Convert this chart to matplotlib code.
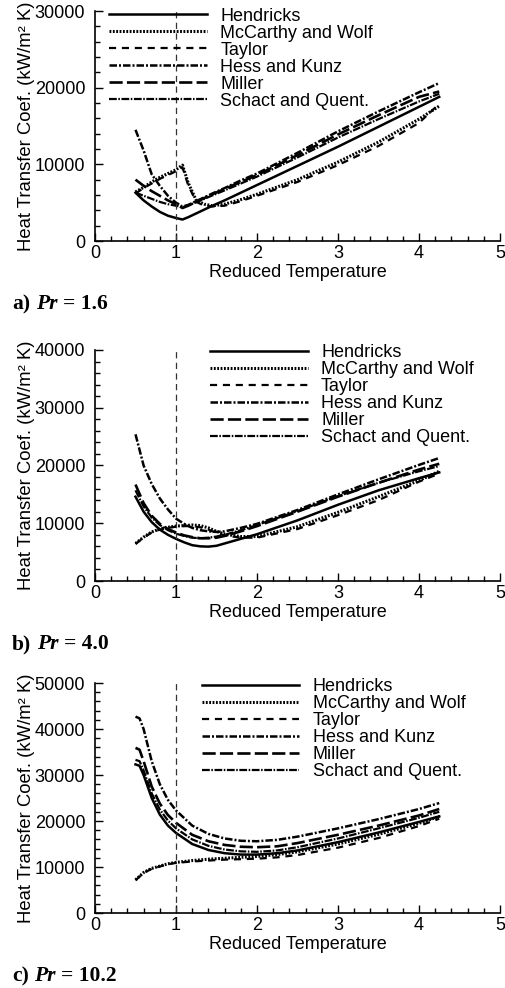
"""
Heat transfer coefficient vs reduced temperature for six correlations,
three Prandtl numbers stacked vertically.
"""
import matplotlib

matplotlib.use("Agg")
import matplotlib.pyplot as plt
from matplotlib.ticker import MultipleLocator

plt.rcParams["font.family"] = ["Liberation Sans", "DejaVu Sans"]

CORRELATIONS = [
    "Hendricks",
    "McCarthy and Wolf",
    "Taylor",
    "Hess and Kunz",
    "Miller",
    "Schact and Quent.",
]

# a) Pr = 1.6
x_a = [0.5, 0.6, 0.7, 0.8, 0.9, 1.0, 1.08, 1.15, 1.25, 1.35, 1.45, 1.6,
       1.8, 2.0, 2.5, 3.0, 3.5, 4.0, 4.25]
hendricks_a = [6300, 5300, 4500, 3800, 3300, 3000, 2800, 3100, 3600, 4100,
               4600, 5300, 6300, 7300, 9800, 12300, 14900, 17500, 18800]
mccarthy_a = [6400, 7000, 7700, 8300, 8800, 9300, 9900, 7600, 5300, 4800,
              4600, 4800, 5400, 6100, 8000, 10300, 12900, 15900, 17600]
taylor_a = [6200, 6900, 7500, 8100, 8600, 9100, 9600, 7300, 5100, 4600,
            4500, 4600, 5200, 5900, 7700, 9900, 12400, 15400, 17900]
hess_a = [14500, 11800, 8700, 7200, 5900, 5000, 4500, 4700, 5200, 5700,
          6200, 6900, 7900, 8800, 11500, 14300, 16900, 19400, 20600]
miller_a = [8000, 7200, 6500, 5900, 5300, 4800, 4300, 4600, 5100, 5600,
            6100, 6800, 7700, 8600, 11200, 13900, 16400, 18800, 19500]
schact_a = [6300, 5900, 5500, 5100, 4800, 4600, 4400, 4650, 5050, 5500,
            5950, 6600, 7500, 8400, 10900, 13500, 15900, 18200, 19200]

# b) Pr = 4.0
x_b = [0.5, 0.6, 0.7, 0.8, 0.9, 1.0, 1.1, 1.2, 1.3, 1.4, 1.5, 1.6, 1.8,
       2.0, 2.5, 3.0, 3.5, 4.0, 4.25]
hendricks_b = [14600, 12000, 10200, 8900, 8000, 7300, 6700, 6200, 6000,
               5950, 6100, 6500, 7300, 8100, 10500, 13200, 15700, 17800,
               18800]
mccarthy_b = [6500, 7600, 8500, 9000, 9300, 9500, 9600, 9700, 9600, 9200,
              8600, 8100, 7700, 7700, 9400, 11900, 14600, 17400, 19000]
taylor_b = [6400, 7500, 8400, 8900, 9200, 9400, 9500, 9500, 9300, 8900,
            8300, 7900, 7500, 7500, 9000, 11400, 14000, 17200, 18600]
hess_b = [25400, 20000, 16800, 14300, 12400, 10800, 9900, 9200, 8800, 8600,
          8500, 8600, 9200, 9900, 12300, 15000, 17600, 20100, 21300]
miller_b = [16700, 13500, 11300, 9900, 9000, 8400, 7900, 7600, 7400, 7400,
            7500, 7800, 8600, 9500, 12000, 14600, 17000, 19300, 20300]
schact_b = [15700, 12900, 11000, 9700, 8800, 8200, 7800, 7500, 7400, 7500,
            7700, 8000, 8800, 9700, 12100, 14700, 17000, 19000, 19900]

# c) Pr = 10.2
x_c = [0.5, 0.55, 0.6, 0.7, 0.8, 0.9, 1.0, 1.2, 1.4, 1.6, 1.8, 2.0, 2.25,
       2.5, 3.0, 3.5, 4.0, 4.25]
hendricks_c = [32300, 32000, 30000, 25000, 21400, 19000, 17400, 15000,
               13700, 13000, 12700, 12700, 13000, 13600, 15400, 17500,
               19800, 21000]
mccarthy_c = [7200, 8000, 8800, 9700, 10200, 10700, 11000, 11400, 11700,
              11900, 12100, 12300, 12700, 13300, 15000, 17100, 19500, 21000]
taylor_c = [7100, 7900, 8700, 9600, 10100, 10600, 10900, 11200, 11400,
            11600, 11700, 11800, 12100, 12600, 14200, 16300, 18900, 20500]
hess_c = [42700, 42300, 40000, 33000, 28000, 24600, 22300, 19000, 17200,
          16200, 15700, 15600, 15900, 16600, 18400, 20400, 22600, 23900]
miller_c = [35900, 35500, 33000, 27500, 23800, 21300, 19600, 17000, 15600,
            14800, 14400, 14300, 14500, 15200, 17000, 19000, 21200, 22600]
schact_c = [33300, 33000, 31000, 26000, 22500, 20100, 18400, 16000, 14600,
            13800, 13400, 13300, 13600, 14300, 16200, 18400, 20700, 22000]

LINE_STYLES = [
    dict(linestyle="-", linewidth=1.8),
    dict(linestyle=(0, (0.6, 0.5)), linewidth=2.2),
    dict(linestyle=(0, (3.2, 2.6)), linewidth=1.6),
    dict(linestyle=(0, (3, 0.8, 0.8, 0.8)), linewidth=1.8),
    dict(linestyle=(0, (5, 1.6)), linewidth=1.9),
    dict(linestyle=(0, (3.5, 0.7, 0.7, 0.7)), linewidth=1.6),
]


def draw_panel(ax, x, series, ymax, legend_anchor):
    for name, y, style in zip(CORRELATIONS, series, LINE_STYLES):
        ax.plot(x, y, color="black", label=name, **style)
    ax.axvline(1.0, color="#333333", linewidth=0.9, linestyle=(0, (5, 3.5)))

    ax.set_xlim(0, 5)
    ax.set_ylim(0, ymax)
    ax.xaxis.set_major_locator(MultipleLocator(1))
    ax.xaxis.set_minor_locator(MultipleLocator(0.2))
    ax.yaxis.set_major_locator(MultipleLocator(10000))
    ax.yaxis.set_minor_locator(MultipleLocator(2000))
    ax.tick_params(which="both", direction="in", top=False, right=False,
                   width=1.0, labelsize=13)
    ax.tick_params(which="major", length=6)
    ax.tick_params(which="minor", length=3.5)
    ax.tick_params(axis="y", pad=7)
    ax.tick_params(axis="x", pad=3)
    for side in ("top", "right"):
        ax.spines[side].set_visible(False)
    for side in ("left", "bottom"):
        ax.spines[side].set_linewidth(1.2)

    ax.set_xlabel("Reduced Temperature", fontsize=13, labelpad=1)
    ax.set_ylabel("Heat Transfer Coef. (kW/m\u00b2 K)", fontsize=13.3,
                  labelpad=0)

    ax.legend(loc="upper left", bbox_to_anchor=legend_anchor, frameon=False,
              fontsize=13, handlelength=5.4, handletextpad=0.75,
              labelspacing=0.0, borderpad=0, borderaxespad=0)


def caption(fig, ax, y, letter, value):
    serif = ["Liberation Serif", "DejaVu Serif"]
    t1 = fig.text(12 / 505, y, letter, family=serif, weight="bold",
                  fontsize=15.5, va="baseline")
    t2 = ax.annotate("Pr", xy=(1, 0), xycoords=t1, xytext=(4, 0),
                     textcoords="offset points", family=serif,
                     weight="bold", style="italic", fontsize=15.5,
                     va="bottom", ha="left", annotation_clip=False)
    ax.annotate("= " + value, xy=(1, 0), xycoords=t2, xytext=(4, 0),
                textcoords="offset points", family=serif, weight="bold",
                fontsize=15.5, va="bottom", ha="left", annotation_clip=False)


fig = plt.figure(figsize=(5.05, 9.88), dpi=100)
left, width = 95 / 505, 405 / 505
ax_a = fig.add_axes([left, 1 - 241 / 988, width, 230 / 988])
ax_b = fig.add_axes([left, 1 - 581 / 988, width, 231 / 988])
ax_c = fig.add_axes([left, 1 - 913 / 988, width, 230 / 988])

draw_panel(ax_a, x_a, [hendricks_a, mccarthy_a, taylor_a, hess_a, miller_a,
                       schact_a], 30000, (0.035, 1.015))
draw_panel(ax_b, x_b, [hendricks_b, mccarthy_b, taylor_b, hess_b, miller_b,
                       schact_b], 40000, (0.284, 1.025))
draw_panel(ax_c, x_c, [hendricks_c, mccarthy_c, taylor_c, hess_c, miller_c,
                       schact_c], 50000, (0.264, 1.02))

caption(fig, ax_a, 1 - 309 / 988, "a)", "1.6")
caption(fig, ax_a, 1 - 649 / 988, "b)", "4.0")
caption(fig, ax_a, 1 - 981 / 988, "c)", "10.2")

fig.savefig("out.png", dpi=100)
plt.close(fig)
